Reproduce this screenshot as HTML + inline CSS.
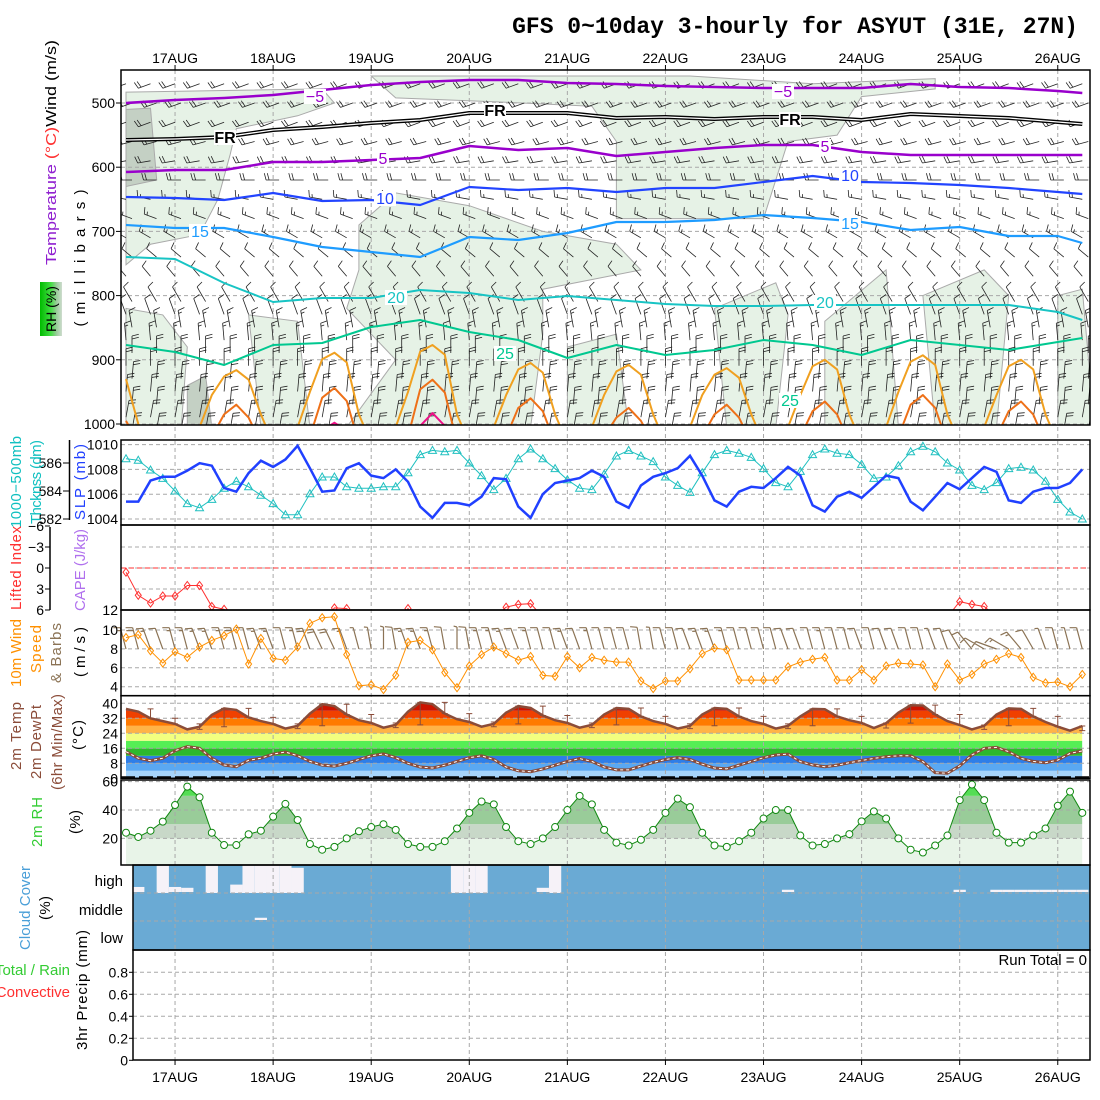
<!DOCTYPE html>
<html><head><meta charset="utf-8">
<style>
html,body{margin:0;padding:0;background:#fff;}
svg{display:block;font-family:"Liberation Sans",sans-serif;}
</style></head>
<body>
<svg id="chart" width="1100" height="1100" viewBox="0 0 1100 1100" xmlns="http://www.w3.org/2000/svg">
<defs>
 <linearGradient id="tempGrad" gradientUnits="userSpaceOnUse" x1="0" y1="265" x2="0" y2="155">
  <stop offset="0" stop-color="#ff3030"/><stop offset="0.2" stop-color="#ff9020"/><stop offset="0.4" stop-color="#a0d020"/>
  <stop offset="0.6" stop-color="#20c080"/><stop offset="0.8" stop-color="#2080ff"/><stop offset="1" stop-color="#9020d0"/>
 </linearGradient>
 <linearGradient id="rhGrad" x1="0" y1="0" x2="1" y2="0">
  <stop offset="0" stop-color="#00bb00"/><stop offset="0.5" stop-color="#44dd44"/><stop offset="0.75" stop-color="#99cc99"/><stop offset="1" stop-color="#cfdccf"/>
 </linearGradient>
 <clipPath id="clipP1"><rect x="121" y="70" width="969" height="355"/></clipPath>
 <clipPath id="clipLI"><rect x="121" y="525" width="969" height="85"/></clipPath>
 <clipPath id="clipTemp"><polygon id="tempClipPoly" points=""/></clipPath>
 <clipPath id="clipRH"><polygon id="rhClipPoly" points=""/></clipPath>
</defs>

<text x="1078" y="33" text-anchor="end" font-family="Liberation Mono, monospace" font-weight="bold" font-size="23">GFS 0~10day 3-hourly for ASYUT (31E, 27N)</text>

<rect x="121" y="70" width="969" height="355" fill="#fff"/>
<g id="rhBlobs" clip-path="url(#clipP1)"></g>
<g id="tempBands" clip-path="url(#clipTemp)"></g>
<g id="rhBands" clip-path="url(#clipRH)"></g>
<rect x="133" y="865" width="957" height="85" fill="#6aaad4"/>
<g id="clouds"></g>
<g id="grid"></g>
<g id="marks"></g>

<g fill="none" stroke="#000" stroke-width="1.5">
 <rect x="121" y="70" width="969" height="355"/>
 <rect x="121" y="440" width="969" height="85"/>
 <rect x="121" y="525" width="969" height="85"/>
 <rect x="121" y="610" width="969" height="85.7"/>
 <rect x="121" y="695.7" width="969" height="82.6"/>
 <rect x="121" y="780" width="969" height="85"/>
 <rect x="133" y="865" width="957" height="85"/>
 <rect x="133" y="950" width="957" height="110"/>
 <line x1="69.5" y1="440" x2="69.5" y2="520"/>
 <line x1="50" y1="527" x2="50" y2="610"/>
</g>

<g id="axes" font-size="14" fill="#000"></g>

<g font-size="15">
 <text transform="translate(56,265) rotate(-90)" textLength="225" lengthAdjust="spacingAndGlyphs"><tspan fill="url(#tempGrad)">Temperature</tspan><tspan fill="#ff3030"> (°C)</tspan><tspan fill="#000">Wind (m/s)</tspan></text>
 <rect x="40" y="282" width="22" height="54" fill="url(#rhGrad)"/>
 <text transform="translate(56,309) rotate(-90)" text-anchor="middle" font-size="14">RH (%)</text>
 <text transform="translate(85,258) rotate(-90)" text-anchor="middle" textLength="137" font-size="15">(millibars)</text>

 <text transform="translate(21,482) rotate(-90)" text-anchor="middle" fill="#10c0c0" textLength="92">1000−500mb</text>
 <text transform="translate(41,482) rotate(-90)" text-anchor="middle" fill="#10c0c0" textLength="84">Thcknss (dm)</text>
 <text transform="translate(85,482) rotate(-90)" text-anchor="middle" fill="#2040ff" textLength="76">SLP (mb)</text>

 <text transform="translate(21,568) rotate(-90)" text-anchor="middle" fill="#ff3030" textLength="84">Lifted Index</text>
 <text transform="translate(85,570) rotate(-90)" text-anchor="middle" fill="#b070ee" textLength="82">CAPE (J/kg)</text>

 <text transform="translate(21,653) rotate(-90)" text-anchor="middle" fill="#ff9000" textLength="68">10m Wind</text>
 <text transform="translate(41,649) rotate(-90)" text-anchor="middle" fill="#ff9000" textLength="48">Speed</text>
 <text transform="translate(61,653) rotate(-90)" text-anchor="middle" fill="#8b7355" textLength="60">&amp; Barbs</text>
 <text transform="translate(85,652) rotate(-90)" text-anchor="middle" textLength="50">(m/s)</text>

 <text transform="translate(21,736) rotate(-90)" text-anchor="middle" fill="#8b4c39" textLength="68">2m Temp</text>
 <text transform="translate(41,742) rotate(-90)" text-anchor="middle" fill="#8b4c39" textLength="74">2m DewPt</text>
 <text transform="translate(62,742) rotate(-90)" text-anchor="middle" fill="#8b4c39" textLength="96">(6hr Min/Max)</text>
 <text transform="translate(83,735) rotate(-90)" text-anchor="middle" textLength="30">(°C)</text>

 <text transform="translate(42,822) rotate(-90)" text-anchor="middle" fill="#33cc33" textLength="50">2m RH</text>
 <text transform="translate(80,822) rotate(-90)" text-anchor="middle" textLength="24">(%)</text>

 <text transform="translate(30,908) rotate(-90)" text-anchor="middle" fill="#4a9fd8" textLength="84">Cloud Cover</text>
 <text transform="translate(50,908) rotate(-90)" text-anchor="middle" textLength="24">(%)</text>
 <text x="123" y="886" text-anchor="end">high</text>
 <text x="123" y="915" text-anchor="end">middle</text>
 <text x="123" y="943" text-anchor="end">low</text>

 <text x="70" y="975" text-anchor="end" fill="#33cc33">Total / Rain</text>
 <text x="70" y="997" text-anchor="end" fill="#ff3030">Convective</text>
 <text transform="translate(87,990) rotate(-90)" text-anchor="middle" textLength="120">3hr Precip (mm)</text>
 <text x="1087" y="965" text-anchor="end">Run Total = 0</text>
</g>

<script>
// ---------- data ----------
const days = ["17AUG","18AUG","19AUG","20AUG","21AUG","22AUG","23AUG","24AUG","25AUG","26AUG"];
const pressureTicks = [500,600,700,800,900,1000];
const slpTicks = [1004,1006,1008,1010];
const thkTicks = [582,584,586];
const liTicks = [-6,-3,0,3,6];
const windTicks = [4,6,8,10];
const tempTicks = [0,8,16,24,32,40];
const rhTicks = [20,40,60];
const precipTicks = [0,0.2,0.4,0.6,0.8];

const slp = [1005.4,1005.4,1007.1,1007.4,1007.4,1007.9,1008.5,1008.3,
 1006.5,1006.2,1007.7,1008.7,1008.2,1008.8,1009.9,1008.1,
 1006.2,1006.3,1008.1,1008.5,1007.5,1007.3,1008.0,1007.0,
 1005.0,1004.1,1005.3,1005.3,1005.1,1005.8,1007.3,1007.2,
 1005.0,1004.1,1006.0,1006.9,1007.1,1007.3,1007.9,1007.4,
 1005.4,1004.9,1006.7,1007.4,1007.7,1008.1,1009.1,1007.5,
 1005.5,1005.0,1006.2,1006.6,1006.5,1007.3,1008.2,1007.5,
 1005.1,1004.6,1005.8,1006.2,1005.7,1006.6,1007.5,1007.3,
 1005.4,1004.7,1005.8,1006.9,1006.4,1007.3,1008.2,1007.8,
 1005.5,1005.3,1006.2,1006.5,1006.5,1006.9,1008.0];
const thickness = [586.3,586.2,585.5,584.9,584.0,583.1,582.8,583.4,
 584.2,584.7,584.3,583.7,583.1,582.3,582.3,583.8,
 585.0,585.0,584.3,584.2,584.2,584.3,584.3,585.3,
 586.6,586.9,586.8,586.9,586.0,585.1,584.1,584.9,
 586.3,587.0,586.3,585.6,584.8,584.2,584.1,585.2,
 586.5,586.9,586.5,586.1,585.0,584.4,583.9,585.3,
 586.6,586.9,586.7,586.4,585.6,584.6,584.3,585.4,
 586.6,587.0,586.7,586.6,585.9,584.9,585.0,585.8,
 586.8,587.2,586.8,586.0,585.5,584.4,584.1,584.6,
 585.6,585.7,585.5,584.7,583.4,582.5,582.0];
const liftedIndex = [0.6,3.9,5.0,4.0,4.0,2.5,2.5,5.5,5.9,7,
 8,8,8,8,8,8,8,5.7,5.8,7,
 8,8,8,5.8,8,8,8,8,8,8,
 7,5.6,5.2,5.1,7,8,8,8,8,8,
 8,8,8,8,8,8,8,8,8,8,
 8,8,8,8,8,8,8,8,8,8,
 8,8,8,8,8,8,8,7,4.8,5.2,
 5.5,7,8,8,8,8,8,8,8];
const wind10 = [9.2,9.5,7.8,6.5,7.7,7.1,8.2,8.9,9.4,10.1,
 6.4,9.1,7.0,6.8,8.2,10.7,11.3,11.4,7.4,4.1,
 4.2,3.7,5.2,8.7,8.9,7.9,5.5,3.9,6.2,7.4,
 8.2,7.5,6.8,7.2,5.2,5.1,7.2,6.0,7.1,6.8,
 6.6,6.6,4.6,3.8,4.6,4.6,5.9,7.5,8.1,7.9,
 4.7,4.7,4.7,4.7,6.1,6.6,6.9,7.1,4.7,4.7,
 5.8,4.7,6.2,6.5,6.4,6.3,4.0,6.4,4.7,5.3,
 6.4,6.9,7.5,7.1,5.0,4.4,4.5,4.0,5.3];
const wind10Dir = [345,345,340,340,345,345,340,340,345,345,
 345,340,340,345,345,340,335,335,340,345,
 350,0,350,340,340,345,350,0,350,345,
 345,340,340,345,345,345,340,340,345,345,
 345,345,350,350,345,345,340,340,340,345,
 345,345,345,345,340,340,345,345,345,345,
 340,345,340,340,345,345,340,340,330,320,
 300,290,300,320,330,340,345,345,345];
const temp2m = [37,35.5,32,30.5,29,26.1,27.5,33.8,
 37.3,36.5,32.5,30.5,29,26.5,28,34.5,
 39.5,38.5,34,31,29.5,27,28.5,35.5,
 40.5,39.5,34.5,31.5,30,27.5,29,35,
 38.5,37.5,33.5,31,29.5,27,28.5,34,
 37.5,37,33,30.5,29,26.5,28,34,
 37.5,37,33,30.5,29,26.5,28,33,
 37,36.8,33,31,29.5,26.8,29.4,35,
 39,38.8,34,30.5,28.4,26.1,28,34,
 37.3,37,33,30,27.5,25.4,27.9];
const dewpt2m = [14.2,10.7,9.4,10.7,14.7,16.9,16,10.7,
 7.1,6.2,9.6,10.7,12.9,14,12,9,
 7,6.5,8,10,12,13,11,8,
 6,5.5,7,9,11,12,10,6,
 4,3.5,5,7,9,10.5,9,6,
 4.5,4.5,6.5,8.5,10,11,10,7.5,
 5.5,5,7,9,11,12.4,12.9,8.9,
 7.1,6.2,7,8.3,9.5,10.6,11.5,12,
 12,8.9,3,2.7,6.6,12.4,16,16.5,
 14.2,10.6,9,8.3,9.7,13.3,14.6];
const rh2m = [24,21,25.4,31.8,43.5,56.5,49,24,15.3,15.3,22.9,25.4,35.3,44.3,33,
 16,12,14,20,25,28,30,26,16,14,
 14,18,27,38,46,44,28,18,16,20,
 28,40,50,44,26,17,15,19,26,38,
 48,42,24,15,14,18,24,34,40,40,
 22,15,16,20,23,32,39,34,20,12,
 10,15,22,47,58,47,24,17,17,22,
 27,43,53,38];
const cloudHigh = [0,18,0,100,18,15,0,100,0,30,100,100,100,100,90,
 0,0,0,0,0,0,0,0,0,0,0,0,100,100,100,0,0,0,0,15,100,
 0,0,0,0,0,0,0,0,0,0,0,0,0,0,0,0,0,0,8,
 0,0,0,0,0,0,0,0,0,0,0,0,0,8,0,0,8,8,8,8,8,8,8,8];
const cloudMid = [0,0,0,0,0,0,0,0,0,0,0,8,0,0,0,0,0,0,0,0,0,0,0,0,0,0,0,0,0,0,0,0,0,0,0,0,0,0,0,0,
 0,0,0,0,0,0,0,0,0,0,0,0,0,0,0,0,0,0,0,0,0,0,0,0,0,0,0,0,0,0,0,0,0,0,0,0,0,0,0];
const precip3h = new Array(79).fill(0);

const isoSteps = [0,4,8,12,16,20,24,28,32,36,40,44,48,52,56,60,64,68,72,76,78];
const isoM5 = [500,495.3,492.2,487.5,479.8,472,467.3,464.2,464.2,468.8,470.4,473.5,475.1,476.6,476.6,476.6,470.4,475.1,476.6,481.3,484.4];
const iso0  = [557.6,556,552.9,542,537.4,531.2,526.5,515.6,515.6,515.6,523.4,521.8,524.9,521.8,521.8,526.5,517.1,520.2,523.4,529.6,532.7];
const iso5  = [607.5,604.4,604.4,591.9,591.9,588.8,585.7,567,573.2,570.1,582.6,576.3,570.1,565.4,565.4,576.3,581,581,581,581,581];
const iso10 = [646.4,648,651.1,640.2,652.6,651.1,658.9,630.8,635.5,632.4,638.6,632.4,632.4,623,613.7,623,624.6,627.7,632.4,638.6,641.7];
const iso15 = [690,694.7,694.7,708.7,724.3,732.1,739.9,708.7,713.4,702.5,685.4,685.4,682.2,674.5,679.1,685.4,697.8,693.1,707.2,707.2,718.1];
const iso20 = [739.9,743,780.4,810,803.7,803.7,791.3,796,806.9,800.6,806.9,813.1,816.2,816.2,814.6,814.6,814.6,814.6,814.6,825.5,838];
const iso25 = [877,887.9,908.1,877,873.8,848.9,838,856.7,869.2,897.2,877,892.5,884.7,869.2,877,892.5,869.2,877,884.7,872.3,866];
const iso30 = [930,1000,1040,1050,1060,1060,1005,955,926,916,931,985,1030,1050,1005,950,899,889,904,985,1030,1050,1005,950,
 887,877,892,985,1030,1050,1005,955,915,905,920,985,1030,1050,1005,955,918,908,923,985,1030,1050,1005,955,
 923,913,928,985,1030,1050,1005,955,910,900,915,985,1030,1050,1005,950,903,893,908,985,1030,1050,1005,955,910,900,915,985,1030];
const iso35 = [995,1030,1060,1060,1060,1060,1060,1020,985,970,990,1030,1060,1060,1060,1020,959,944,964,1030,1060,1060,1060,1020,
 946,931,951,1030,1060,1060,1060,1020,975,960,980,1030,1060,1060,1060,1020,990,975,995,1030,1060,1060,1060,1020,
 985,970,990,1030,1060,1060,1060,1020,980,965,985,1030,1060,1060,1060,1020,970,955,975,1030,1060,1060,1060,1020,980,965,985,1030,1060];
const iso40 = [1080,1080,1080,1080,1080,1080,1080,1080,1080,1080,1080,1080,1080,1080,1080,1080,1010,998,1010,1080,1080,1080,1080,1080,
 1003,983,1003,1080,1080,1080,1080,1080,1080,1080,1080,1080,1080,1080,1080,1080,1080,1080,1080,1080,1080,1080,1080,1080,
 1080,1080,1080,1080,1080,1080,1080,1080,1080,1080,1080,1080,1080,1080,1080,1080,1080,1080,1080,1080,1080,1080,1080,1080,1080,1080,1080,1080,1080];

const rhMoistA = [[0,483],[16,478],[17,500],[14,520],[9,540],[8.5,580],[7.5,650],[6,705],[2,720],[0,752]];
const rhMoistB = [[20,458],[46,458],[56,470],[66,462],[66,478],[60,490],[58,550],[54,560],[52,680],[40,680],[40,560],[38,505],[30,498],[22,492]];
const rhMoistC = [[19,690],[22,640],[28,660],[34,700],[40,720],[42,760],[34,790],[34,860],[33,1005],[18,1005],[22,900],[18,820],[19,760]];
const rhMoistD = [[0,820],[3,830],[5,880],[4.5,1005],[0,1005]];
const rhMoistE = [[10,830],[14,840],[15,1005],[11,1005]];
const rhMoistF = [[36,880],[40,860],[41,1005],[36,1005]];
const rhMoistG = [[48,820],[53,780],[54,830],[53,1005],[49,1005]];
const rhMoistH = [[57,840],[62,760],[63,1005],[57,1005]];
const rhMoistI = [[65,800],[70,760],[72,800],[71,1005],[66,1005]];
const rhMoistJ = [[76,800],[78,790],[79,1005],[76,1005]];
const rhWetA = [[0,510],[2,508],[2.5,620],[0,630]];
const rhWetB = [[5,940],[6.5,925],[7,1005],[5,1005]];

const barbLevels = [470,500,530,560,590,620,650,680,710,740,770,800,820,840,860,880,900,920,940,960,980,1000];
const barbDir = [250,250,250,255,260,270,280,290,300,310,320,330,340,350,355,0,0,5,5,5,10,10];
const barbSpeed = [10,10,10,10,10,10,7.5,7.5,7.5,5,5,5,5,7.5,7.5,10,10,10,10,10,10,10];

// ---------- scales ----------
const X = i => 126 + i*12.26;
const Yp = p => 103 + (p-500)*0.642;
const Ys = v => 519 - (v-1004)*12.4;
const Yt = v => 519 - (v-582)*14;
const Yl = v => 568 + v*7;
const Yw = v => 630 - (v-10)*9.45;
const YT = v => 778.3 - v*1.875;
const Yr = v => 866.7 - v*1.417;
const Ypr = v => 1060.3 - v*110;

const NS = "http://www.w3.org/2000/svg";
function mk(tag, attrs, parent){
  const e = document.createElementNS(NS, tag);
  for (const k in attrs) e.setAttribute(k, attrs[k]);
  parent.appendChild(e);
  return e;
}
const grid = document.getElementById('grid');
const marks = document.getElementById('marks');
const axes = document.getElementById('axes');
const dayX = d => X(4 + 8*d);
const pts = (arr, fy) => arr.map((v,i)=>X(i).toFixed(1)+','+fy(v).toFixed(1)).join(' ');

const blobG = document.getElementById('rhBlobs');
[rhMoistA,rhMoistB,rhMoistC,rhMoistD,rhMoistE,rhMoistF,rhMoistG,rhMoistH,rhMoistI,rhMoistJ].forEach(b=>{
  const el = mk('polygon',{points:b.map(q=>X(q[0]).toFixed(1)+','+Yp(q[1]).toFixed(1)).join(' '),fill:'#e6f2e6',stroke:'#aaaaaa','stroke-width':1},blobG);
  
  
});
[rhWetA,rhWetB].forEach(b=>{
  const el = mk('polygon',{points:b.map(q=>X(q[0]).toFixed(1)+','+Yp(q[1]).toFixed(1)).join(' '),fill:'#c4d0c4',stroke:'#aaaaaa','stroke-width':1},blobG);
  
  
});

const nT = temp2m.length;
document.getElementById('tempClipPoly').setAttribute('points',
  pts(temp2m, YT) + ' ' + X(nT-1).toFixed(1)+',778.3 '+X(0).toFixed(1)+',778.3');
const bandDefs = [[0,4,'#a6d4fa'],[4,8,'#5aa8f2'],[8,12,'#2e7ee8'],[12,16,'#2db82d'],[16,20,'#55ee55'],[20,24,'#f2ff80'],[24,28,'#ffb347'],[28,32,'#ff7a00'],[32,36,'#f04000'],[36,40,'#cc1400'],[40,50,'#990000']];
const tb = document.getElementById('tempBands');
bandDefs.forEach(b=>{
  const el = mk('rect',{x:X(0),y:YT(b[1]),width:X(nT-1)-X(0),height:YT(b[0])-YT(b[1]),fill:b[2]},tb);
  
  
});

document.getElementById('rhClipPoly').setAttribute('points',
  pts(rh2m, Yr) + ' ' + X(rh2m.length-1).toFixed(1)+',865 '+X(0).toFixed(1)+',865');
const rhBandDefs = [[0,20,'#e8f4e8'],[20,30,'#c8d8c8'],[30,50,'#99cc99'],[50,80,'#55dd55']];
const rb = document.getElementById('rhBands');
rhBandDefs.forEach(b=>{
  const el = mk('rect',{x:X(0),y:Yr(b[1]),width:X(rh2m.length-1)-X(0),height:Yr(b[0])-Yr(b[1]),fill:b[2]},rb);
  
  
});

const cg = document.getElementById('clouds');
cloudHigh.forEach((v,i)=>{
  if(v<=0) return;
  const h = 28*v/100;
  const x0 = Math.max(133, X(i)-6.13), x1 = Math.min(1090, X(i)+6.13);
  const el = mk('rect',{x:x0,y:893-h-(v<20?1:0),width:x1-x0,height:h,fill:'#f6f2f8'},cg);
  
  
});
cloudMid.forEach((v,i)=>{
  if(v<=0) return;
  const h = 28*v/100;
  const el = mk('rect',{x:X(i)-6.13,y:921-h-1,width:12.26,height:h,fill:'#f6f2f8'},cg);
  
  
});

const dash = {stroke:'#a8a8a8','stroke-width':1,'stroke-dasharray':'4,3'};
days.forEach((d,k)=>{
  const el = mk('line',Object.assign({x1:dayX(k),y1:70,x2:dayX(k),y2:1060},dash),grid);
  
  
});
function hgrid(vals, fy, x0, name){
  vals.forEach(v=>{
    const el = mk('line',Object.assign({x1:x0,y1:fy(v),x2:1090,y2:fy(v)},dash),grid);
    
    
  });
}
hgrid(pressureTicks, Yp, 121, 'pressure-gridline');
hgrid(slpTicks, Ys, 121, 'slp-gridline');
hgrid(liTicks.filter(v=>v>-6&&v<6), Yl, 121, 'li-gridline');
hgrid(windTicks, Yw, 121, 'wind-gridline');
hgrid(tempTicks.filter(v=>v>0), YT, 121, 'temp-gridline');
hgrid(rhTicks, Yr, 121, 'rh-gridline');
hgrid([893,921], v=>v, 133, 'cloud-gridline');
hgrid(precipTicks.filter(v=>v>0), Ypr, 133, 'precip-gridline');

function lab(x,y,t,anchor,name,size){
  const el = mk('text',{x:x,y:y,'text-anchor':anchor||'end','font-size':size||14},axes);
  el.textContent = t;
  
  
  return el;
}
function tick(x1,y1,x2,y2,name){
  const el = mk('line',{x1:x1,y1:y1,x2:x2,y2:y2,stroke:'#000','stroke-width':1},axes);
  
  
}
days.forEach((d,k)=>{
  lab(dayX(k),63,d,'middle','top-date-label');
  tick(dayX(k),65,dayX(k),70,'top-date-tick');
  lab(dayX(k),1082,d,'middle','bottom-date-label');
  tick(dayX(k),1060,dayX(k),1065,'bottom-date-tick');
});
pressureTicks.forEach(p=>{ lab(115,Yp(p)+5,String(p),'end','pressure-tick-label'); tick(116,Yp(p),121,Yp(p),'pressure-tick'); });
slpTicks.forEach(v=>{ lab(118,Ys(v)+5,String(v),'end','slp-tick-label'); });
thkTicks.forEach(v=>{ lab(62,Yt(v)+5,String(v),'end','thickness-tick-label'); tick(63,Yt(v),69.5,Yt(v),'thickness-tick'); });
liTicks.forEach(v=>{ lab(44,Yl(v)+5,v<0?'−'+Math.abs(v):String(v),'end','li-tick-label'); tick(45,Yl(v),50,Yl(v),'li-tick'); });
lab(118,615,'12','end','cape-tick-label');
windTicks.forEach(v=>{ lab(118,Yw(v)+5,String(v),'end','wind-tick-label'); });
tempTicks.forEach(v=>{ lab(118,YT(v)+5,String(v),'end','temp-tick-label'); });
rhTicks.forEach(v=>{ lab(118,Yr(v)+5,String(v),'end','rh-tick-label'); });
precipTicks.forEach(v=>{ lab(128,Ypr(v)+5,String(v),'end','precip-tick-label'); tick(129,Ypr(v),133,Ypr(v),'precip-tick'); });

const p1 = mk('g',{'clip-path':'url(#clipP1)'},marks);



function barbPath(x,y,dir,spd,L,side){
  const r = dir*Math.PI/180;
  const ux = Math.sin(r), uy = -Math.cos(r);
  const ex = x+L*ux, ey = y+L*uy;
  let d = `M${x.toFixed(1)} ${y.toFixed(1)}L${ex.toFixed(1)} ${ey.toFixed(1)}`;
  const br = (dir + side*75)*Math.PI/180;
  const bx = Math.sin(br), by = -Math.cos(br);
  let s = spd, k = 0;
  while (s >= 4.5){ const px=ex-k*3*ux, py=ey-k*3*uy; d+=`M${px.toFixed(1)} ${py.toFixed(1)}l${(7*bx).toFixed(1)} ${(7*by).toFixed(1)}`; s-=5; k++; }
  if (s >= 2){ const px=ex-k*3*ux, py=ey-k*3*uy; d+=`M${px.toFixed(1)} ${py.toFixed(1)}l${(3.5*bx).toFixed(1)} ${(3.5*by).toFixed(1)}`; }
  return d;
}
barbLevels.forEach((p,li)=>{
  let d = '';
  for(let i=0;i<79;i+=2){
    const L = p>=800 ? 17 : 13;
    d += barbPath(X(i)+ (li%2?6:0), Yp(p)+ (p>=800?6:0), barbDir[li], barbSpeed[li], L, 1);
  }
  const el = mk('path',{d:d,fill:'none',stroke:'#222','stroke-width':0.8},p1);
  
  
});

function isoLine(steps, vals, color, w, name){
  const P = steps.map((s,k)=>X(s).toFixed(1)+','+Yp(vals[k]).toFixed(1)).join(' ');
  const el = mk('polyline',{points:P,fill:'none',stroke:color,'stroke-width':w,'stroke-linejoin':'round'},p1);
  
  
  return el;
}
const allSteps = temp2m.map((v,i)=>i);
isoLine(allSteps, iso30, '#f0a020', 2, 'isotherm-30c');
isoLine(allSteps, iso35, '#ee7018', 2, 'isotherm-35c');
isoLine(allSteps, iso40, '#ee1188', 2, 'isotherm-40c');
isoLine(isoSteps, iso25, '#00c890', 2, 'isotherm-25c');
isoLine(isoSteps, iso20, '#18c4c4', 2, 'isotherm-20c');
isoLine(isoSteps, iso15, '#1e9cff', 2.2, 'isotherm-15c');
isoLine(isoSteps, iso10, '#2244ff', 2.2, 'isotherm-10c');
isoLine(isoSteps, iso5, '#9900cc', 2.5, 'isotherm-5c');
isoLine(isoSteps, isoM5, '#9900cc', 2.5, 'isotherm-minus5c');
isoLine(isoSteps, iso0, '#000', 4, 'freezing-level');
isoLine(isoSteps, iso0, '#fff', 1.3, 'freezing-level-inner');

function isoLabel(x,y,t,color,name,bold){
  const bg = mk('rect',{x:x-t.length*5-1,y:y-13,width:t.length*10+2,height:15,fill:'#fff'},p1);
  
  
  const el = mk('text',{x:x,y:y,fill:color,'font-size':16,'text-anchor':'middle','font-weight':bold?'bold':'normal'},p1);
  el.textContent = t;
  
  
}
isoLabel(315,102,'−5','#9900cc','isotherm-label-minus5');
isoLabel(783,97,'−5','#9900cc','isotherm-label-minus5');
isoLabel(225,143,'FR','#000','freezing-label',true);
isoLabel(495,116,'FR','#000','freezing-label',true);
isoLabel(790,125,'FR','#000','freezing-label',true);
isoLabel(383,164,'5','#9900cc','isotherm-label-5');
isoLabel(825,152,'5','#9900cc','isotherm-label-5');
isoLabel(385,204,'10','#2244ff','isotherm-label-10');
isoLabel(850,181,'10','#2244ff','isotherm-label-10');
isoLabel(200,237,'15','#1e9cff','isotherm-label-15');
isoLabel(850,229,'15','#1e9cff','isotherm-label-15');
isoLabel(396,303,'20','#18c4c4','isotherm-label-20');
isoLabel(825,308,'20','#18c4c4','isotherm-label-20');
isoLabel(505,359,'25','#00c890','isotherm-label-25');
isoLabel(790,406,'25','#00c890','isotherm-label-25');

let el;
el = mk('polyline',{points:pts(thickness,Yt),fill:'none',stroke:'#20c0c0','stroke-width':1},marks);


thickness.forEach((v,i)=>{
  const x=X(i), y=Yt(v);
  const m = mk('polygon',{points:`${x},${y-4} ${x-4},${y+3} ${x+4},${y+3}`,fill:'none',stroke:'#20c0c0','stroke-width':1},marks);
  
  
});
el = mk('polyline',{points:pts(slp,Ys),fill:'none',stroke:'#2040ff','stroke-width':2.5},marks);



el = mk('line',{x1:121,y1:Yl(0),x2:1090,y2:Yl(0),stroke:'#ff3030','stroke-width':1,'stroke-dasharray':'5,3'},marks);


const liG = mk('g',{'clip-path':'url(#clipLI)'},marks);


el = mk('polyline',{points:pts(liftedIndex,Yl),fill:'none',stroke:'#ff3030','stroke-width':1},liG);


liftedIndex.forEach((v,i)=>{
  if(v>6.5) return;
  const x=X(i), y=Yl(v);
  const m = mk('polygon',{points:`${x},${y-4} ${x+3},${y} ${x},${y+4} ${x-3},${y}`,fill:'none',stroke:'#ff3030','stroke-width':1},liG);
  
  
});

let bd = '';
wind10.forEach((v,i)=>{ bd += barbPath(X(i), 649, wind10Dir[i], v, 22, -1); });
el = mk('path',{d:bd,fill:'none',stroke:'#8b7355','stroke-width':1.2},marks);


el = mk('polyline',{points:pts(wind10,Yw),fill:'none',stroke:'#ff9000','stroke-width':1},marks);


wind10.forEach((v,i)=>{
  const x=X(i), y=Yw(v);
  const m = mk('polygon',{points:`${x},${y-4} ${x+3},${y} ${x},${y+4} ${x-3},${y}`,fill:'none',stroke:'#ff9000','stroke-width':1},marks);
  
  
});

el = mk('polyline',{points:pts(dewpt2m,YT),fill:'none',stroke:'#8b4c39','stroke-width':3},marks);


el = mk('polyline',{points:pts(dewpt2m,YT),fill:'none',stroke:'#fff','stroke-width':1,'stroke-dasharray':'3,3'},marks);


el = mk('polyline',{points:pts(temp2m,YT),fill:'none',stroke:'#8b4c39','stroke-width':2.5},marks);


let mm = '';
temp2m.forEach((v,i)=>{
  if(i%2!==0 || i<2) return;
  const hi = Math.max(temp2m[i-2],temp2m[i-1],v), lo = Math.min(temp2m[i-2],temp2m[i-1],v);
  const x = X(i);
  mm += `M${x} ${YT(hi)}L${x} ${YT(lo)}M${x-3} ${YT(hi)}L${x+3} ${YT(hi)}M${x-3} ${YT(lo)}L${x+3} ${YT(lo)}`;
});
el = mk('path',{d:mm,fill:'none',stroke:'#8b4c39','stroke-width':1},marks);


el = mk('line',{x1:121,y1:777,x2:1090,y2:777,stroke:'#000','stroke-width':1.5,'stroke-dasharray':'14,4'},marks);



el = mk('polyline',{points:pts(rh2m,Yr),fill:'none',stroke:'#118811','stroke-width':1},marks);


rh2m.forEach((v,i)=>{
  const m = mk('circle',{cx:X(i),cy:Yr(v),r:3.5,fill:'#fff',stroke:'#118811','stroke-width':1},marks);
  
  
});

precip3h.forEach((v,i)=>{
  if(v<=0) return;
  const m = mk('rect',{x:X(i)-5,y:Ypr(v),width:10,height:Ypr(0)-Ypr(v),fill:'#33cc33'},marks);
  
  
});
</script>
</body></html>
